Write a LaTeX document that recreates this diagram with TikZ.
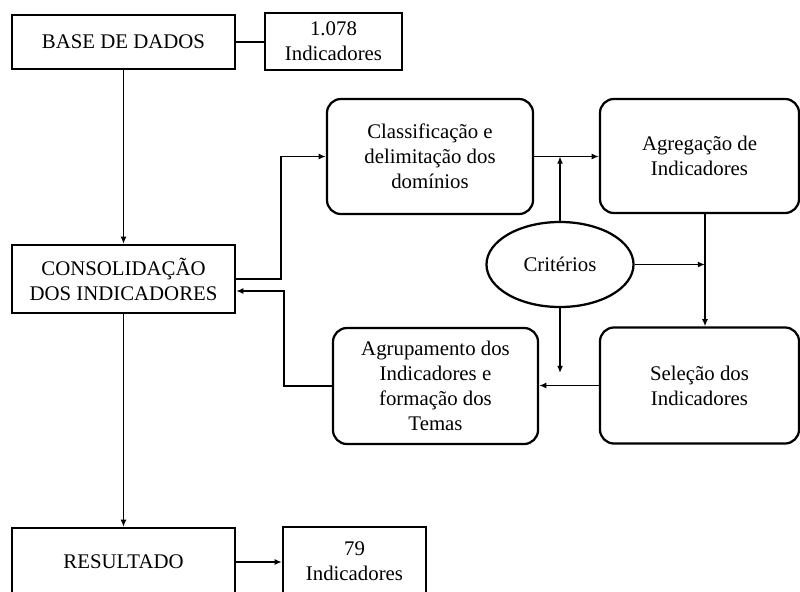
\documentclass[tikz,border=0pt]{standalone}
\usepackage{fontspec}
\setmainfont{Liberation Serif}
\usetikzlibrary{arrows.meta,shapes.geometric}

\begin{document}
\begin{tikzpicture}[x=0.025cm,y=-0.025cm,>={Latex[length=1.8mm,width=1.5mm]},
	caixa/.style={draw,line width=1.6pt,align=center,inner sep=2pt,font=\fontsize{14.8}{17.8}\selectfont},
	etapa/.style={caixa,rounded corners=0.35cm},
	liga/.style={line width=1.4pt}]
	\useasboundingbox (0,0) rectangle (800,591);
	% coluna da esquerda
	\node[caixa,minimum width=5.575cm,minimum height=1.35cm] (base) at (123.5,42) {BASE DE DADOS};
	\node[caixa,minimum width=3.425cm,minimum height=1.425cm] (n1078) at (333.5,41.5) {1.078\\Indicadores};
	\node[caixa,minimum width=5.575cm,minimum height=1.7cm] (consol) at (123.5,279) {CONSOLIDAÇÃO\\DOS INDICADORES};
	\node[caixa,minimum width=5.575cm,minimum height=1.7cm] (result) at (123.5,562) {RESULTADO};
	\node[caixa,minimum width=3.575cm,minimum height=1.7cm] (n79) at (354.5,561) {79\\Indicadores};
	% etapas
	\node[etapa,minimum width=5.15cm,minimum height=2.875cm] (classif) at (430,156.5) {Classificação e\\delimitação dos\\domínios};
	\node[etapa,minimum width=4.975cm,minimum height=2.85cm] (agreg) at (699.5,156) {Agregação de\\Indicadores};
	\node[etapa,minimum width=5.125cm,minimum height=2.9cm] (agrup) at (435.5,386) {Agrupamento dos\\Indicadores e\\formação dos\\Temas};
	\node[etapa,minimum width=4.975cm,minimum height=2.9cm] (selecao) at (699.5,385.5) {Seleção dos\\Indicadores};
	\node[caixa,ellipse,inner sep=0pt,minimum width=3.675cm,minimum height=2.125cm] (crit) at (560,264.5) {Critérios};
	\coordinate (dobra1) at (281,0);
	\coordinate (dobra2) at (284,0);
	\coordinate (sobe) at (705,0);
	\coordinate (fimcrit) at (560,373);
	\coordinate (entrada) at ([yshift=-0.3cm]consol.east);
	% ligacoes
	\draw[liga] (base.east) -- (base.east -| n1078.west);
	\draw[liga,->] (base) -- (consol);
	\draw[liga,->] (consol) -- (result);
	\draw[liga,->] (result.east) -- (result.east -| n79.west);
	\draw[liga,->] (consol.east) -| (dobra1 |- classif.west) -- (classif.west);
	\draw[liga,->] (classif.east) -- (classif.east -| agreg.west);
	\draw[liga,->] (crit.north) -- (crit.north |- classif.east);
	\draw[liga,->] (crit.east) -- (crit.east -| sobe);
	\draw[liga,->] (agreg.south -| sobe) -- (selecao.north -| sobe);
	\draw[liga,->] (crit.south) -- (fimcrit);
	\draw[liga,->] (selecao.west) -- (selecao.west -| agrup.east);
	\draw[liga,->] (agrup.west) -| (dobra2 |- entrada) -- (entrada);
\end{tikzpicture}
\end{document}
